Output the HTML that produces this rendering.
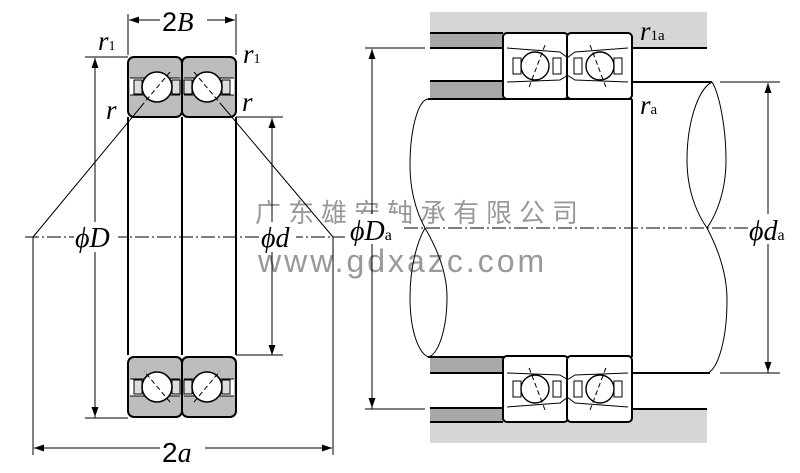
<!DOCTYPE html>
<html><head><meta charset="utf-8"><style>html,body{margin:0;padding:0;background:#fff}svg{display:block}</style></head>
<body>
<svg width="800" height="473" viewBox="0 0 800 473" xmlns="http://www.w3.org/2000/svg" font-family="'Liberation Serif', serif">
<defs>
<g id="lh">
 <rect x="128" y="57" width="54" height="60" rx="6" fill="#bdbdbd" stroke="#000" stroke-width="2"/>
 <rect x="130" y="78" width="50" height="17" fill="#fff"/>
 <path d="M130,78 H180 M130,95 H180" stroke="#000" stroke-width="1"/>
 <rect x="134" y="80" width="8" height="14" fill="#ddd" stroke="#000"/>
 <rect x="172" y="80" width="8" height="14" fill="#ddd" stroke="#000"/>
 <circle cx="157" cy="87" r="15" fill="#fff" stroke="#000" stroke-width="1.6"/>
 <path d="M170,72 L144,103" stroke="#000" stroke-dasharray="5,3"/>
</g>
<g id="rh">
 <rect x="503" y="33" width="65" height="66" rx="4" fill="#fff" stroke="#000" stroke-width="2"/>
 <path d="M507,48 L560,52 L568,58 M507,82 L560,80 L568,75" stroke="#000" fill="none"/>
 <rect x="513" y="58" width="8" height="16" fill="#fff" stroke="#000"/>
 <rect x="553" y="58" width="8" height="16" fill="#fff" stroke="#000"/>
 <circle cx="535" cy="66" r="14" fill="#fff" stroke="#000" stroke-width="1.4"/>
 <path d="M545,45 L528,90" stroke="#000" stroke-dasharray="5,3"/>
</g>
</defs>
<!-- watermark -->
<text x="255" y="222" font-family="'Noto Sans CJK SC', sans-serif" font-size="26" fill="#999" letter-spacing="7">广东雄安轴承有限公司</text>
<text x="258" y="272" font-family="'Liberation Sans', sans-serif" font-size="32" fill="#999" letter-spacing="3">www.gdxazc.com</text>

<!-- LEFT -->
<path d="M128,117 V355 M182,117 V355 M236,117 V355" stroke="#000" stroke-width="2"/>
<use href="#lh"/>
<use href="#lh" transform="translate(364,0) scale(-1,1)"/>
<use href="#lh" transform="translate(0,474) scale(1,-1)"/>
<use href="#lh" transform="translate(364,474) scale(-1,-1)"/>
<path d="M25,237 H345" stroke="#000" stroke-dasharray="14,3,2,3"/>
<path d="M360,228 H800" stroke="#000" stroke-dasharray="14,3,2,3"/>
<path d="M33,237 L144,103 M333,237 L220,103" stroke="#000" stroke-width="1"/>
<path d="M33,237 V455 M333,237 V455" stroke="#000"/>
<path d="M34,448 H160 M205,448 H332" stroke="#000"/>
<path d="M34,448 l10,-3.5 v7z M332,448 l-10,-3.5 v7z"/>
<text x="162" y="462" font-family="'Liberation Sans',sans-serif" font-size="28">2<tspan font-family="'Liberation Serif',serif" font-style="italic">a</tspan></text>
<path d="M128,14 V55 M236,14 V55 M129,20 H160 M207,20 H235" stroke="#000"/>
<path d="M129,20 l10,-3.5 v7z M235,20 l-10,-3.5 v7z"/>
<text x="162" y="31" font-family="'Liberation Sans',sans-serif" font-size="27">2<tspan font-family="'Liberation Serif',serif" font-style="italic">B</tspan></text>
<path d="M85,57 H128 M85,418 H128 M95,58 V418" stroke="#000"/>
<path d="M95,58 l-3.5,10 h7z M95,417 l-3.5,-10 h7z"/>
<rect x="74" y="222" width="44" height="30" fill="#fff"/>
<text x="75" y="247" font-size="28" font-style="italic">ϕD</text>
<path d="M236,117 H283 M236,355 H283 M272,118 V355" stroke="#000"/>
<path d="M272,118 l-3.5,10 h7z M272,355 l-3.5,-10 h7z"/>
<rect x="262" y="222" width="34" height="30" fill="#fff"/>
<text x="261" y="247" font-size="28" font-style="italic">ϕd</text>
<text x="98" y="50" font-size="27" font-style="italic">r<tspan font-size="14" font-style="normal">1</tspan></text>
<text x="243" y="63" font-size="27" font-style="italic">r<tspan font-size="14" font-style="normal">1</tspan></text>
<text x="106" y="119" font-size="27" font-style="italic">r</text>
<text x="242" y="111" font-size="27" font-style="italic">r</text>

<!-- RIGHT -->
<rect x="430" y="12" width="277" height="36" fill="#d6d6d6"/>
<rect x="430" y="409" width="277" height="34" fill="#d6d6d6"/>
<rect x="430" y="33" width="73" height="15" fill="#a8a8a8"/>
<rect x="430" y="81" width="73" height="17" fill="#a8a8a8"/>
<rect x="430" y="357" width="73" height="16" fill="#a8a8a8"/>
<rect x="430" y="408" width="73" height="14" fill="#a8a8a8"/>
<path d="M430,33 H503 M430,48 H503 M632,48 H707 M430,81 H503 M430,373 H503 M430,408 H503 M632,409 H707 M430,422 H503" stroke="#000" stroke-width="2"/>
<path d="M632,99 V357 M428,99 H632 M428,357 H632 M632,82 H712 M632,373 H710" stroke="#000" stroke-width="2" fill="none"/>
<!-- left break -->
<path d="M428,99 C418,100 410,130 410,165 C410,195 418,215 425,228 C435,245 447,270 447,297 C447,330 438,355 428,357" stroke="#000" fill="none"/>
<path d="M425,228 C418,240 410,265 410,297 C410,330 418,352 428,357" stroke="#000" fill="none"/>
<!-- right break -->
<path d="M712,82 C697,90 687,125 687,160 C687,195 700,218 707,228 C716,245 727,270 727,300 C727,340 718,368 708,373" stroke="#000" fill="none"/>
<path d="M712,82 C720,95 726,130 726,160 C726,195 714,218 707,228" stroke="#000" fill="none"/>
<use href="#rh"/>
<use href="#rh" transform="translate(1135,0) scale(-1,1)"/>
<use href="#rh" transform="translate(0,455) scale(1,-1)"/>
<use href="#rh" transform="translate(1135,455) scale(-1,-1)"/>
<path d="M365,48 H425 M365,409 H425 M372,49 V409" stroke="#000"/>
<path d="M372,49 l-3.5,10 h7z M372,408 l-3.5,-10 h7z"/>
<rect x="350" y="214" width="52" height="30" fill="#fff"/>
<text x="350" y="240" font-size="28" font-style="italic">ϕD<tspan font-size="16" font-style="normal">a</tspan></text>
<path d="M720,82 H780 M720,373 H780 M768,83 V373" stroke="#000"/>
<path d="M768,83 l-3.5,10 h7z M768,372 l-3.5,-10 h7z"/>
<rect x="748" y="214" width="52" height="30" fill="#fff"/>
<text x="749" y="240" font-size="28" font-style="italic">ϕd<tspan font-size="16" font-style="normal">a</tspan></text>
<text x="640" y="40" font-size="27" font-style="italic">r<tspan font-size="15" font-style="normal">1a</tspan></text>
<text x="640" y="114" font-size="27" font-style="italic">r<tspan font-size="15" font-style="normal">a</tspan></text>
</svg>
</body></html>
